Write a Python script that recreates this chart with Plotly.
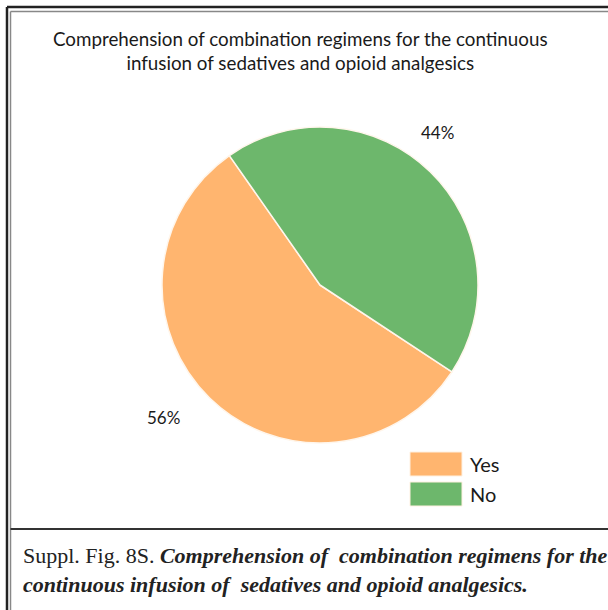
import plotly.graph_objects as go

W, H = 608, 610

labels = ["Yes", "No"]
values = [56, 44]
colors = ["#FFB56F", "#6DB76C"]

title_lines = ["Comprehension of combination regimens for the continuous",
               "infusion of sedatives and opioid analgesics"]
caption_prefix = "Suppl. Fig. 8S."
caption_lines = ["Comprehension of  combination regimens for the",
                 "continuous infusion of  sedatives and opioid analgesics."]


def px(x):
    return x / W


def py(y):
    return 1 - y / H


fig = go.Figure()
fig.add_trace(go.Pie(
    labels=labels, values=values,
    marker=dict(colors=colors, line=dict(color="#FFF6EC", width=1.5)),
    sort=False, direction="clockwise", rotation=123.4,
    textinfo="none", showlegend=False,
    domain=dict(x=[px(162), px(478)], y=[py(443), py(127)]),
))

total = sum(values)
pct = [f"{v / total * 100:.0f}%" for v in values]

annotations = [
    dict(x=px(300), y=py(25), text="<br>".join(title_lines), showarrow=False,
         xanchor="center", yanchor="top", align="center",
         font=dict(family="Lato", size=18.8, color="#1a1a1a")),
    dict(x=px(163), y=py(417), text=pct[0], showarrow=False,
         xanchor="center", yanchor="middle",
         font=dict(family="Lato", size=17, color="#1a1a1a")),
    dict(x=px(437), y=py(133), text=pct[1], showarrow=False,
         xanchor="center", yanchor="middle",
         font=dict(family="Lato", size=17, color="#1a1a1a")),
    dict(x=px(21), y=py(541), xanchor="left", yanchor="top", align="left",
         showarrow=False,
         text=caption_prefix + " <b><i>" + caption_lines[0] + "</i></b><br><b><i>"
              + caption_lines[1] + "</i></b>",
         font=dict(family="Liberation Serif", size=22, color="#222")),
]

shapes = [
    dict(type="line", x0=px(7), x1=px(W), y0=py(7), y1=py(7),
         line=dict(color="#222", width=2.5)),
    dict(type="line", x0=px(7), x1=px(7), y0=py(7), y1=py(H),
         line=dict(color="#222", width=2.5)),
    dict(type="line", x0=px(10.5), x1=px(W), y0=py(11.5), y1=py(11.5),
         line=dict(color="#888", width=1.5)),
    dict(type="line", x0=px(10.5), x1=px(10.5), y0=py(11.5), y1=py(H),
         line=dict(color="#888", width=1.5)),
    dict(type="line", x0=px(10.5), x1=px(W), y0=py(529), y1=py(529),
         line=dict(color="#333", width=2)),
]

# legend drawn by hand so the swatches are as large as in the original
for i, (lab, col) in enumerate(zip(labels, colors)):
    top = 452 + i * 30
    shapes.append(dict(type="rect", x0=px(410), x1=px(462), y0=py(top), y1=py(top + 24),
                       fillcolor=col, line=dict(color="#FFF0E0", width=1)))
    annotations.append(dict(x=px(468), y=py(top + 12), text=lab, showarrow=False,
                            xanchor="left", yanchor="middle",
                            font=dict(family="Lato", size=20, color="#1a1a1a")))

fig.update_layout(
    width=W, height=H, autosize=False,
    margin=dict(l=0, r=0, t=0, b=0),
    paper_bgcolor="white", plot_bgcolor="white",
    shapes=shapes, annotations=annotations,
)

# drop the default page margin so the figure fills the window
fig.write_html("out.html", config={"displayModeBar": False},
               post_script="document.body.style.margin='0';")
